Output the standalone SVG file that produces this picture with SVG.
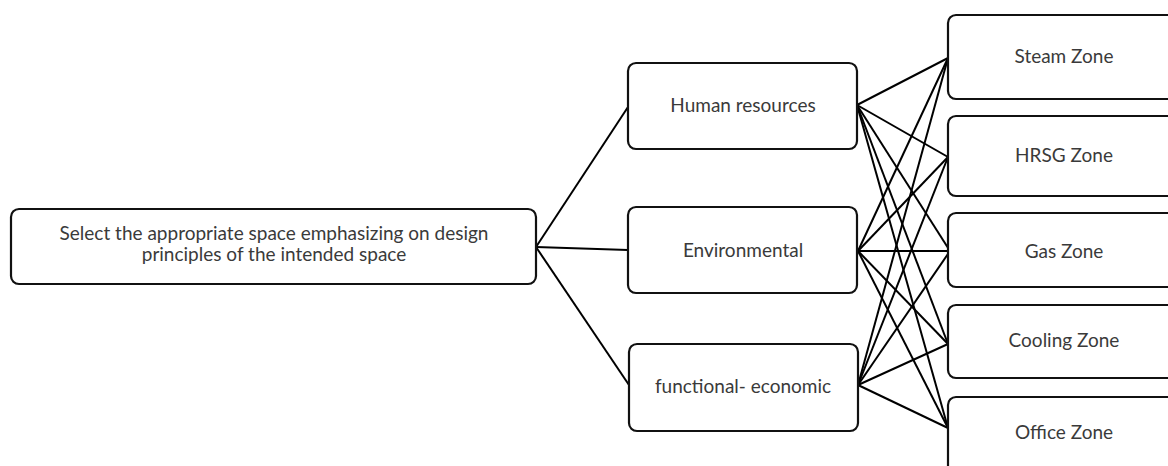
<svg xmlns="http://www.w3.org/2000/svg" width="1168" height="466" viewBox="0 0 1168 466">
<style>
.box{fill:#fff;stroke:#111;stroke-width:2.2}
.t{font-family:Lato,"Open Sans","Liberation Sans",sans-serif;font-size:19px;fill:#3a3a3a;text-anchor:middle}
.c line{stroke:#000;stroke-width:2}
</style>
<rect width="1168" height="466" fill="#fff"/>
<g class="c" id="connectors">
<line x1="536" y1="247" x2="628" y2="107"/>
<line x1="536" y1="247" x2="628" y2="250"/>
<line x1="536" y1="247" x2="629" y2="385"/>
<line x1="857" y1="105" x2="948" y2="58"/>
<line x1="857" y1="105" x2="948" y2="157"/>
<line x1="857" y1="105" x2="950" y2="251"/>
<line x1="857" y1="105" x2="948" y2="344"/>
<line x1="857" y1="105" x2="948" y2="428"/>
<line x1="858" y1="251" x2="948" y2="58"/>
<line x1="858" y1="251" x2="948" y2="157"/>
<line x1="858" y1="251" x2="950" y2="251"/>
<line x1="858" y1="251" x2="948" y2="344"/>
<line x1="858" y1="251" x2="948" y2="428"/>
<line x1="858" y1="385" x2="948" y2="58"/>
<line x1="858" y1="385" x2="948" y2="157"/>
<line x1="858" y1="385" x2="950" y2="251"/>
<line x1="858" y1="385" x2="948" y2="344"/>
<line x1="858" y1="385" x2="948" y2="428"/>
</g>
<g id="main">
<rect class="box" x="11" y="209" width="525" height="75" rx="8"/>
<text class="t" x="274" y="240">Select the appropriate space emphasizing on design</text>
<text class="t" x="274" y="261">principles of the intended space</text>
</g>
<g id="human">
<rect class="box" x="628" y="63" width="229" height="86" rx="8"/>
<text class="t" x="743" y="112">Human resources</text>
</g>
<g id="environmental">
<rect class="box" x="628" y="207" width="229" height="86" rx="8"/>
<text class="t" x="743" y="257">Environmental</text>
</g>
<g id="functional">
<rect class="box" x="629" y="344" width="229" height="87" rx="8"/>
<text class="t" x="743" y="393">functional- economic</text>
</g>
<g id="steam">
<rect class="box" x="948" y="15" width="240" height="84" rx="8"/>
<text class="t" x="1064" y="63">Steam Zone</text>
</g>
<g id="hrsg">
<rect class="box" x="948" y="116" width="240" height="80" rx="8"/>
<text class="t" x="1064" y="162">HRSG Zone</text>
</g>
<g id="gas">
<rect class="box" x="948" y="213" width="240" height="74" rx="8"/>
<text class="t" x="1064" y="258">Gas Zone</text>
</g>
<g id="cooling">
<rect class="box" x="948" y="305" width="240" height="73" rx="8"/>
<text class="t" x="1064" y="347">Cooling Zone</text>
</g>
<g id="office">
<rect class="box" x="948" y="397" width="240" height="90" rx="8"/>
<text class="t" x="1064" y="439">Office Zone</text>
</g>
</svg>
